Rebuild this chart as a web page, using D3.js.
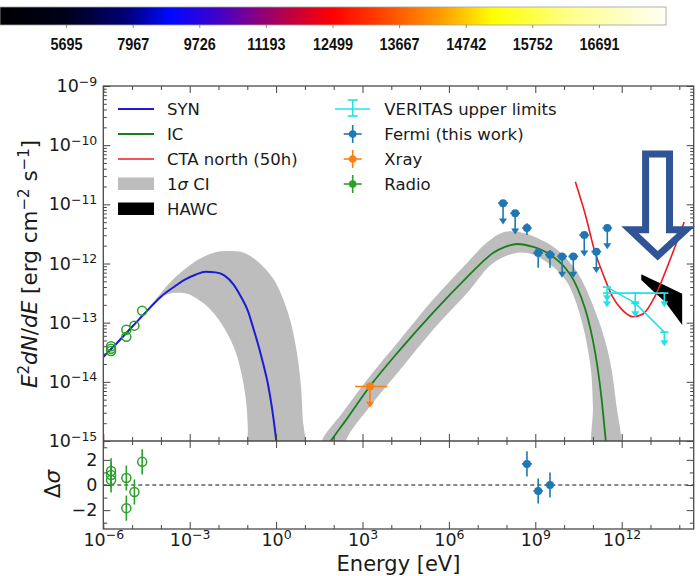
<!DOCTYPE html>
<html>
<head>
<meta charset="utf-8">
<title>SED</title>
<script src="https://cdn.jsdelivr.net/npm/d3@7/dist/d3.min.js"></script>
<style>
  html, body { margin: 0; padding: 0; background: #fff; }
  svg { display: block; font-family: "DejaVu Sans", sans-serif; }
</style>
</head>
<body>
<svg id="chart" width="700" height="576"></svg>
<script>
// colour bar labels on top of the figure
const colorbarLabels = [5695, 7967, 9726, 11193, 12499, 13667, 14742, 15752, 16691];

// all energies are log10(E / eV), all fluxes log10(E^2 dN/dE / erg cm^-2 s^-1)
const synLogE = [-6.2, -6, -5.5, -5, -4.5, -4, -3.5, -3.2, -2.8, -2.45, -2.1, -1.8, -1.47, -1.2, -0.98, -0.8, -0.6, -0.45, -0.29, -0.15, 0, 0.1];
const synLogF = [-13.68, -13.58, -13.33, -13.07, -12.81, -12.56, -12.38, -12.28, -12.19, -12.14, -12.15, -12.20, -12.36, -12.58, -12.80, -13.08, -13.41, -13.69, -14.02, -14.42, -14.97, -15.4];

const synBandUpLogE = [-6.2, -5, -4.5, -4.12, -3.7, -3.21, -2.62, -2.03, -1.64, -1.12, -0.63, -0.07, 0.41, 0.69, 0.85, 0.92, 0.95];
const synBandUpLogF = [-13.66, -13.05, -12.79, -12.57, -12.33, -12.11, -11.91, -11.80, -11.79, -11.82, -11.97, -12.28, -12.83, -13.41, -14.0, -14.6, -15.4];
const synBandLoLogE = [-6.2, -5, -4.5, -4.12, -3.77, -3.21, -2.86, -2.38, -1.92, -1.47, -1.23, -1.05, -0.98, -0.96];
const synBandLoLogF = [-13.70, -13.09, -12.84, -12.64, -12.52, -12.50, -12.56, -12.73, -13.0, -13.41, -13.8, -14.3, -14.8, -15.4];

const icLogE = [1.75, 1.96, 2.45, 3.25, 4.3, 5.45, 6.63, 7.15, 7.54, 7.95, 8.38, 8.93, 9.35, 9.63, 10.05, 10.33, 10.6, 10.81, 11.0, 11.16, 11.3, 11.44, 11.55];
const icLogF = [-15.11, -14.96, -14.63, -14.08, -13.46, -12.83, -12.23, -11.98, -11.82, -11.72, -11.67, -11.72, -11.80, -11.89, -12.08, -12.28, -12.58, -12.9, -13.30, -13.75, -14.28, -14.96, -15.5];

const icBandUpLogE = [1.35, 1.62, 2.31, 3.15, 4.3, 5.45, 6.63, 7.33, 7.89, 8.48, 9.07, 9.77, 10.47, 11.02, 11.51, 11.79, 11.9];
const icBandUpLogF = [-15.3, -14.96, -14.52, -13.97, -13.29, -12.61, -11.99, -11.64, -11.47, -11.47, -11.57, -11.77, -12.16, -12.73, -13.46, -14.3, -15.3];
const icBandLoLogE = [2.28, 2.45, 3.25, 4.3, 5.45, 6.63, 7.54, 8.38, 8.93, 9.63, 10.12, 10.57, 10.92, 11.0, 11.05];
const icBandLoLogF = [-15.3, -14.96, -14.42, -13.8, -13.12, -12.5, -11.99, -11.82, -11.85, -12.06, -12.33, -12.9, -13.75, -14.4, -15.3];

const ctaLogE = [10.39, 10.74, 11.05, 11.36, 11.67, 12.01, 12.40, 12.75, 13.16, 13.62, 14.17];
const ctaLogF = [-10.62, -11.18, -11.77, -12.19, -12.55, -12.78, -12.90, -12.85, -12.55, -12.01, -11.30];

const hawcLogE = [12.68, 13.06, 13.51, 14.10];
const hawcUpLogF = [-12.18, -12.27, -12.37, -12.51];
const hawcLoLogF = [-12.28, -12.45, -12.65, -13.04];

const veritasLogE = [11.49, 12.47, 13.48];
const veritasFlatLogF = [-12.50, -12.50, -12.50];
const veritasLogF = [-12.40, -12.67, -13.16];

const fermiLogE = [7.88, 8.30, 8.71, 9.10, 9.51, 9.93, 10.32, 10.70, 11.12, 11.50];
const fermiLogF = [-10.98, -11.15, -11.40, -11.82, -11.85, -11.88, -11.88, -11.52, -11.80, -11.40];
const fermiErrUp = [0, 0, 0.08, 0.08, 0.08, 0, 0, 0, 0, 0];
const fermiErrDn = [0, 0, 0.12, 0.25, 0.22, 0, 0, 0, 0, 0];
const fermiIsUL = [1, 1, 0, 0, 0, 1, 1, 1, 1, 1];

const xrayLogE = [3.26];
const xrayLogF = [-14.08];
const xrayLoLogE = [2.74];
const xrayHiLogE = [3.86];

const radioLogE = [-5.73, -5.73, -5.73, -5.20, -5.20, -4.92, -4.65];
const radioLogF = [-13.40, -13.44, -13.48, -13.12, -13.24, -13.05, -12.80];

// residual panel (sigma)
const radioResid = [1.12, 0.8, 0.4, 0.56, -1.84, -0.56, 1.84];
const fermiResidLogE = [8.71, 9.10, 9.51];
const fermiResid = [1.68, -0.48, 0.0];

// hand drawn block arrow pasted over the plot (data units)
const arrowLogE = [12.83, 13.66, 13.66, 14.23, 13.25, 12.29, 12.83];
const arrowLogF = [-10.15, -10.15, -11.43, -11.43, -11.87, -11.43, -11.43];

const ulDex = 0.36;      // length of fermi / xray upper limit arrows
const veritasUlDex = 0.24;
const fermiXerr = 0.17;

const C = {
    syn: '#1c1cd4', ic: '#18801a', cta: '#ee1c22', band: '#bdbdbd',
    fermi: '#1f77b4', xray: '#ff7f0e', radio: '#2ca02c', veritas: '#1fe3e8',
    arrow: '#2f5597', axis: '#444'
};

const svg = d3.select('#chart');
const X0 = 103.3, X1 = 693.7, Y0 = 86, Y1 = 441, Y2 = 529;
const pow = v => 10 ** v;
const x = d3.scaleLog().domain([1e-6, pow(14.5)]).range([X0, X1]);
const y = d3.scaleLog().domain([1e-15, 1e-9]).range([Y1, Y0]);
const yr = d3.scaleLinear().domain([-3.5, 3.5]).range([Y2, Y1]);
const px = v => x(pow(v));
const py = v => y(pow(v));

// ---------- colour bar ----------
const cb = d3.scaleLinear().domain([0, 10]).range([0, 666]);
const defs = svg.append('defs');
const grad = defs.append('linearGradient').attr('id', 'cmap');
[[0, '#000000'], [0.1, '#00001c'], [0.19, '#000078'], [0.255, '#0008ff'], [0.33, '#4400c8'],
 [0.38, '#80008a'], [0.44, '#c4003c'], [0.5, '#ff0000'], [0.58, '#ff4a00'], [0.66, '#ff9a00'],
 [0.74, '#ffff00'], [0.86, '#ffff90'], [1, '#fffff2']].forEach(([o, c]) => {
    grad.append('stop').attr('offset', o).attr('stop-color', c);
});
svg.append('rect').attr('x', cb(0)).attr('y', 7).attr('width', cb(10) - cb(0)).attr('height', 18)
    .attr('fill', 'url(#cmap)').attr('stroke', '#a0a0a0').attr('stroke-width', 0.8);
colorbarLabels.forEach((lab, i) => {
    const cx = cb(i + 1);
    svg.append('line').attr('x1', cx).attr('x2', cx).attr('y1', 25).attr('y2', 28)
        .attr('stroke', '#888').attr('stroke-width', 1);
    svg.append('text').attr('transform', `translate(${cx},50) scale(0.9,1)`)
        .attr('text-anchor', 'middle').attr('font-family', '"Liberation Sans", Arial, sans-serif')
        .attr('font-weight', 'bold').attr('font-size', '16px').attr('fill', '#111').text(lab);
});

// ---------- main panel ----------
defs.append('clipPath').attr('id', 'clipMain').append('rect')
    .attr('x', X0).attr('y', Y0).attr('width', X1 - X0).attr('height', Y1 - Y0);
const plot = svg.append('g').attr('clip-path', 'url(#clipMain)');

const smooth = d3.line().x(d => px(d[0])).y(d => py(d[1])).curve(d3.curveMonotoneX);
const ring = d3.line().x(d => px(d[0])).y(d => py(d[1])).curve(d3.curveCatmullRom.alpha(0.5));
const zip = (a, b) => a.map((v, i) => [v, b[i]]);

function band(upE, upF, loE, loF) {
    const pts = zip(upE, upF).concat(zip(loE, loF).reverse());
    plot.append('path').attr('d', ring(pts) + 'Z').attr('fill', C.band).attr('stroke', 'none');
}
band(synBandUpLogE, synBandUpLogF, synBandLoLogE, synBandLoLogF);
band(icBandUpLogE, icBandUpLogF, icBandLoLogE, icBandLoLogF);

plot.append('path').attr('d', smooth(zip(synLogE, synLogF))).attr('fill', 'none')
    .attr('stroke', C.syn).attr('stroke-width', 2);
plot.append('path').attr('d', smooth(zip(icLogE, icLogF))).attr('fill', 'none')
    .attr('stroke', C.ic).attr('stroke-width', 1.8);

// HAWC butterfly
const hawcPts = zip(hawcLogE, hawcUpLogF).concat(zip(hawcLogE, hawcLoLogF).reverse());
plot.append('path').attr('d', d3.line().x(d => px(d[0])).y(d => py(d[1]))(hawcPts) + 'Z')
    .attr('fill', '#000');

plot.append('path').attr('d', smooth(zip(ctaLogE, ctaLogF))).attr('fill', 'none')
    .attr('stroke', C.cta).attr('stroke-width', 1.6);

function ulArrow(g, cx, y1, y2, color, w) {
    g.append('line').attr('x1', cx).attr('x2', cx).attr('y1', y1).attr('y2', y2 - 3)
        .attr('stroke', color).attr('stroke-width', w || 1.6);
    g.append('path').attr('d', `M${cx - 4},${y2 - 6}L${cx + 4},${y2 - 6}L${cx},${y2}Z`).attr('fill', color);
}
function vbar(g, cx, y1, y2, color) {
    g.append('line').attr('x1', cx).attr('x2', cx).attr('y1', y1).attr('y2', y2)
        .attr('stroke', color).attr('stroke-width', 1.6);
}
function hbar(g, x1, x2, cy, color) {
    g.append('line').attr('x1', x1).attr('x2', x2).attr('y1', cy).attr('y2', cy)
        .attr('stroke', color).attr('stroke-width', 1.6);
}

// VERITAS upper limits, two sets joined by lines
const straight = d3.line().x(d => px(d[0])).y(d => py(d[1]));
[veritasFlatLogF, veritasLogF].forEach(fl => {
    plot.append('path').attr('d', straight(zip(veritasLogE, fl))).attr('fill', 'none')
        .attr('stroke', C.veritas).attr('stroke-width', 1.6);
    veritasLogE.forEach((e, i) => {
        ulArrow(plot, px(e), py(fl[i]), py(fl[i] - veritasUlDex), C.veritas);
        hbar(plot, px(e) - 4, px(e) + 4, py(fl[i]), C.veritas);
    });
});

// Fermi
fermiLogE.forEach((e, i) => {
    const cx = px(e), cy = py(fermiLogF[i]);
    hbar(plot, px(e - fermiXerr), px(e + fermiXerr), cy, C.fermi);
    if (fermiIsUL[i]) {
        ulArrow(plot, cx, cy, py(fermiLogF[i] - ulDex), C.fermi);
    } else {
        vbar(plot, cx, py(fermiLogF[i] + fermiErrUp[i]), py(fermiLogF[i] - fermiErrDn[i]), C.fermi);
    }
    plot.append('circle').attr('cx', cx).attr('cy', cy).attr('r', 4).attr('fill', C.fermi);
});

// X-ray
xrayLogE.forEach((e, i) => {
    const cx = px(e), cy = py(xrayLogF[i]);
    hbar(plot, px(xrayLoLogE[i]), px(xrayHiLogE[i]), cy, C.xray);
    ulArrow(plot, cx, cy, py(xrayLogF[i] - ulDex), C.xray);
    plot.append('circle').attr('cx', cx).attr('cy', cy).attr('r', 4).attr('fill', C.xray);
});

// Radio
radioLogE.forEach((e, i) => {
    plot.append('circle').attr('cx', px(e)).attr('cy', py(radioLogF[i])).attr('r', 4.5)
        .attr('fill', 'none').attr('stroke', C.radio).attr('stroke-width', 1.5);
});

// ---------- residual panel ----------
defs.append('clipPath').attr('id', 'clipRes').append('rect')
    .attr('x', X0).attr('y', Y1).attr('width', X1 - X0).attr('height', Y2 - Y1);
const res = svg.append('g').attr('clip-path', 'url(#clipRes)');
res.append('line').attr('x1', X0).attr('x2', X1).attr('y1', yr(0)).attr('y2', yr(0))
    .attr('stroke', '#111').attr('stroke-width', 1.2).attr('stroke-dasharray', '4,3');
radioLogE.forEach((e, i) => {
    vbar(res, px(e), yr(radioResid[i] + 1), yr(radioResid[i] - 1), C.radio);
    res.append('circle').attr('cx', px(e)).attr('cy', yr(radioResid[i])).attr('r', 4.5)
        .attr('fill', 'none').attr('stroke', C.radio).attr('stroke-width', 1.5);
});
fermiResidLogE.forEach((e, i) => {
    vbar(res, px(e), yr(fermiResid[i] + 1), yr(fermiResid[i] - 1), C.fermi);
    hbar(res, px(e - fermiXerr), px(e + fermiXerr), yr(fermiResid[i]), C.fermi);
    res.append('circle').attr('cx', px(e)).attr('cy', yr(fermiResid[i])).attr('r', 4).attr('fill', C.fermi);
});

// ---------- axes ----------
const xMajor = d3.range(-6, 13, 3).map(pow);
const xMinor = d3.range(-5, 15).filter(e => e % 3 !== 0).map(pow);
const yMajor = d3.range(-15, -8).map(pow);
const yMinor = d3.range(-15, -9).flatMap(e => d3.range(2, 10).map(k => k * pow(e)));

function styleAxis(g) {
    g.select('.domain').remove();
    g.selectAll('.tick line').attr('stroke', C.axis).attr('stroke-width', 1);
    g.selectAll('.tick text').attr('fill', '#1a1a1a').attr('font-size', '17.5px')
        .attr('font-family', '"DejaVu Sans", sans-serif');
    return g;
}
function powText(g) {
    g.selectAll('.tick text').each(function (d) {
        const e = Math.round(Math.log10(d));
        const t = d3.select(this).text(null);
        t.append('tspan').text('10');
        t.append('tspan').attr('dy', -6.5).attr('font-size', '12.5px').text(e < 0 ? '\u2212' + (-e) : e);
    });
}
function axis(gen, tr) {
    return styleAxis(svg.append('g').attr('transform', tr).call(gen));
}
const noLab = () => '';

// main panel
powText(axis(d3.axisLeft(y).tickValues(yMajor).tickSize(-7).tickPadding(6).tickFormat(String), `translate(${X0},0)`));
axis(d3.axisLeft(y).tickValues(yMinor).tickSize(-3.5).tickFormat(noLab), `translate(${X0},0)`);
axis(d3.axisRight(y).tickValues(yMajor).tickSize(-7).tickFormat(noLab), `translate(${X1},0)`);
axis(d3.axisRight(y).tickValues(yMinor).tickSize(-3.5).tickFormat(noLab), `translate(${X1},0)`);
axis(d3.axisTop(x).tickValues(xMajor).tickSize(-7).tickFormat(noLab), `translate(0,${Y0})`);
axis(d3.axisTop(x).tickValues(xMinor).tickSize(-4).tickFormat(noLab), `translate(0,${Y0})`);
axis(d3.axisBottom(x).tickValues(xMajor).tickSize(-7).tickFormat(noLab), `translate(0,${Y1})`);
axis(d3.axisBottom(x).tickValues(xMinor).tickSize(-4).tickFormat(noLab), `translate(0,${Y1})`);

// residual panel
axis(d3.axisTop(x).tickValues(xMajor).tickSize(-7).tickFormat(noLab), `translate(0,${Y1})`);
axis(d3.axisTop(x).tickValues(xMinor).tickSize(-4).tickFormat(noLab), `translate(0,${Y1})`);
powText(axis(d3.axisBottom(x).tickValues(xMajor).tickSize(-7).tickPadding(4.5).tickFormat(String), `translate(0,${Y2})`));
axis(d3.axisBottom(x).tickValues(xMinor).tickSize(-4).tickFormat(noLab), `translate(0,${Y2})`);
axis(d3.axisLeft(yr).tickValues([-2, 0, 2]).tickSize(-7).tickPadding(6).tickFormat(d3.format('d')), `translate(${X0},0)`);
axis(d3.axisLeft(yr).tickValues([-3, -1, 1, 3]).tickSize(-4).tickFormat(noLab), `translate(${X0},0)`);
axis(d3.axisRight(yr).tickValues([-2, 0, 2]).tickSize(-7).tickFormat(noLab), `translate(${X1},0)`);
axis(d3.axisRight(yr).tickValues([-3, -1, 1, 3]).tickSize(-4).tickFormat(noLab), `translate(${X1},0)`);

// frames
svg.append('rect').attr('x', X0).attr('y', Y0).attr('width', X1 - X0).attr('height', Y2 - Y0)
    .attr('fill', 'none').attr('stroke', '#4a4a4a').attr('stroke-width', 1.3);
svg.append('line').attr('x1', X0).attr('x2', X1).attr('y1', Y1).attr('y2', Y1)
    .attr('stroke', '#4a4a4a').attr('stroke-width', 1.3);

// ---------- axis labels ----------
function richText(parent, parts, supShift, supSize) {
    let shift = 0;
    parts.forEach(([s, k]) => {
        const t = parent.append('tspan').text(s);
        const want = k === 'sup' ? -supShift : 0;
        if (want !== shift) { t.attr('dy', want - shift); shift = want; }
        if (k === 'sup') t.attr('font-size', supSize);
        if (k === 'it') t.attr('font-style', 'italic');
    });
}
const ylab = svg.append('text').attr('transform', 'translate(37,264) rotate(-90)')
    .attr('text-anchor', 'middle').attr('font-size', '21.5px').attr('fill', '#1a1a1a');
richText(ylab, [['E', 'it'], ['2', 'sup'], ['dN', 'it'], ['/', ''], ['dE', 'it'], ['\u00a0[erg\u00a0cm', ''],
    ['\u22122', 'sup'], ['\u00a0s', ''], ['\u22121', 'sup'], [']', '']], 8.5, '15px');

const rlab = svg.append('text').attr('transform', 'translate(60,484) rotate(-90)')
    .attr('text-anchor', 'middle').attr('font-size', '21.5px').attr('fill', '#1a1a1a');
richText(rlab, [['\u0394', ''], ['\u03c3', 'it']], 0, '');

svg.append('text').attr('x', (X0 + X1) / 2).attr('y', 570.5).attr('text-anchor', 'middle')
    .attr('font-size', '21px').attr('fill', '#1a1a1a').text('Energy [eV]');

// ---------- legend ----------
const leg = svg.append('g').attr('font-size', '16.5px').attr('fill', '#1a1a1a');
const rowY = i => 109 + 25 * i;
const legLines = [['SYN', C.syn, 2], ['IC', C.ic, 1.8], ['CTA north (50h)', C.cta, 1.6]];
legLines.forEach(([lab, col, w], i) => {
    leg.append('line').attr('x1', 118).attr('x2', 154).attr('y1', rowY(i)).attr('y2', rowY(i))
        .attr('stroke', col).attr('stroke-width', w);
    leg.append('text').attr('x', 167).attr('y', rowY(i) + 6).text(lab);
});
leg.append('rect').attr('x', 118).attr('y', rowY(3) - 6.5).attr('width', 36).attr('height', 12.5).attr('fill', C.band);
richText(leg.append('text').attr('x', 167).attr('y', rowY(3) + 6), [['1', ''], ['\u03c3', 'it'], ['\u00a0CI', '']], 0, '');
leg.append('rect').attr('x', 118).attr('y', rowY(4) - 6.5).attr('width', 36).attr('height', 12.5).attr('fill', '#000');
leg.append('text').attr('x', 167).attr('y', rowY(4) + 6).text('HAWC');

const hx = 352.7;
leg.append('line').attr('x1', 335).attr('x2', 370).attr('y1', rowY(0)).attr('y2', rowY(0))
    .attr('stroke', C.veritas).attr('stroke-width', 1.6);
vbar(leg, hx, rowY(0) - 9, rowY(0) + 7, C.veritas);
hbar(leg, hx - 5, hx + 5, rowY(0) - 9, C.veritas);
hbar(leg, hx - 5, hx + 5, rowY(0) + 7, C.veritas);
leg.append('text').attr('x', 384.3).attr('y', rowY(0) + 6).text('VERITAS upper limits');

[['Fermi (this work)', C.fermi], ['Xray', C.xray], ['Radio', C.radio]].forEach(([lab, col], j) => {
    const cy = rowY(j + 1);
    vbar(leg, hx, cy - 9, cy + 9, col);
    hbar(leg, hx - 9, hx + 9, cy, col);
    leg.append('circle').attr('cx', hx).attr('cy', cy).attr('r', 3.8).attr('fill', col);
    leg.append('text').attr('x', 384.3).attr('y', cy + 6).text(lab);
});

// ---------- block arrow annotation ----------
svg.append('path').attr('d', d3.line().x(d => px(d[0])).y(d => py(d[1]))(zip(arrowLogE, arrowLogF)) + 'Z')
    .attr('fill', '#fff').attr('stroke', C.arrow).attr('stroke-width', 7).attr('stroke-linejoin', 'miter');
</script>
</body>
</html>
